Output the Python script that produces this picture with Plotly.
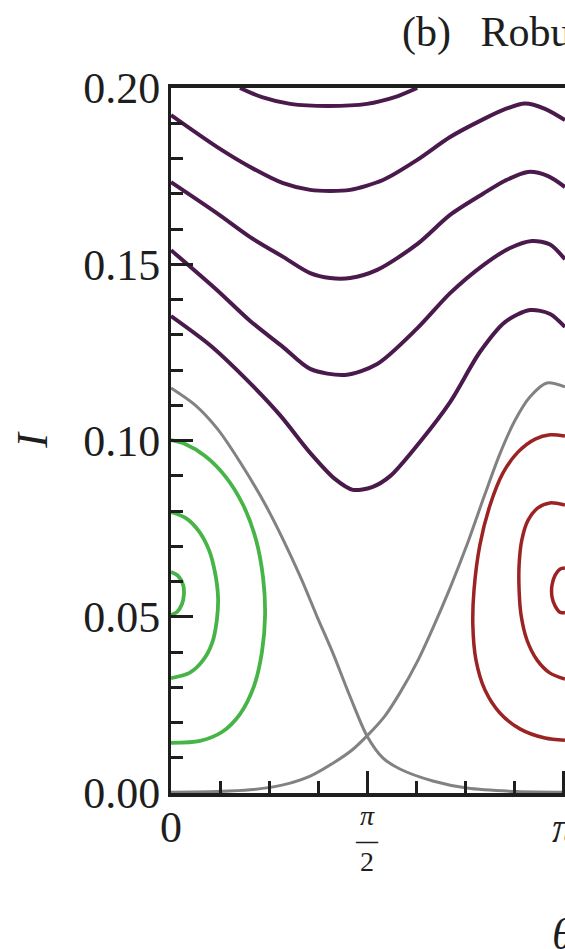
import numpy as np
import plotly.graph_objects as go

PI = np.pi

# ---------------- ticks (theta given in units of pi) ----------------
x_major_ticks = [0.0, 1.0]
x_major_labels = ["0", "<i>π</i>"]
x_fraction_tick = [0.5]
x_fraction_label = ["<span style='font-size:28px'><i>π</i></span><br>"
                    "<b><span style='font-size:22px'>—</span></b><br>"
                    "<span style='font-size:28px'>2</span>"]
x_minor_ticks = [0.125, 0.25, 0.375, 0.625, 0.75, 0.875]
y_major_ticks = [0.00, 0.05, 0.10, 0.15, 0.20]
y_major_labels = ["0.00", "0.05", "0.10", "0.15", "0.20"]
y_minor_ticks = [0.01, 0.02, 0.03, 0.04, 0.06, 0.07, 0.08, 0.09,
                 0.11, 0.12, 0.13, 0.14, 0.16, 0.17, 0.18, 0.19]

title_text = "(b)\u00a0\u00a0\u2009Robustness"
x_title = "<i>θ</i>"
y_title = "<i>I</i>"

# ---------------- rotating orbits (purple) ----------------
p1_theta = [0.176, 0.232, 0.304, 0.401, 0.500, 0.571, 0.628]
p1_I = [0.2000, 0.1974, 0.1955, 0.1949, 0.1955, 0.1974, 0.2000]

p2_theta = [0.000, 0.117, 0.202, 0.286, 0.355, 0.406, 0.457, 0.541, 0.628, 0.712, 0.796, 0.852, 0.903, 0.954, 1.005]
p2_I = [0.1923, 0.1833, 0.1776, 0.1730, 0.1711, 0.1708, 0.1711, 0.1739, 0.1796, 0.1861, 0.1911, 0.1940, 0.1956, 0.1941, 0.1909]

p3_theta = [0.000, 0.117, 0.202, 0.286, 0.355, 0.406, 0.457, 0.526, 0.628, 0.712, 0.796, 0.852, 0.911, 0.962, 1.005]
p3_I = [0.1733, 0.1645, 0.1577, 0.1521, 0.1475, 0.1461, 0.1461, 0.1484, 0.1557, 0.1640, 0.1700, 0.1737, 0.1762, 0.1750, 0.1719]

p4_theta = [0.000, 0.117, 0.202, 0.286, 0.355, 0.444, 0.526, 0.628, 0.712, 0.796, 0.865, 0.921, 0.967, 1.005]
p4_I = [0.1540, 0.1427, 0.1339, 0.1265, 0.1203, 0.1186, 0.1217, 0.1318, 0.1418, 0.1497, 0.1546, 0.1566, 0.1556, 0.1514]

p5_theta = [0.000, 0.099, 0.189, 0.278, 0.355, 0.418, 0.464, 0.513, 0.559, 0.635, 0.712, 0.788, 0.852, 0.916, 0.967, 1.005]
p5_I = [0.1353, 0.1271, 0.1177, 0.1072, 0.0965, 0.0891, 0.0860, 0.0868, 0.0899, 0.0996, 0.1109, 0.1251, 0.1336, 0.1370, 0.1359, 0.1322]

# ---------------- separatrices (gray) ----------------
g1_theta = [0.000, 0.061, 0.117, 0.176, 0.245, 0.329, 0.372, 0.413, 0.457, 0.500, 0.541, 0.584, 0.668, 0.755, 0.883, 1.005]
g1_I = [0.1149, 0.1101, 0.1035, 0.0939, 0.0809, 0.0616, 0.0502, 0.0397, 0.0273, 0.0162, 0.0099, 0.0068, 0.0034, 0.0014, 0.0004, 0.0002]

g2_theta = [0.000, 0.117, 0.202, 0.286, 0.355, 0.418, 0.462, 0.500, 0.546, 0.584, 0.628, 0.668, 0.712, 0.755, 0.801, 0.839, 0.878, 0.916, 0.959, 1.005]
g2_I = [0.0002, 0.0004, 0.0009, 0.0023, 0.0048, 0.0088, 0.0122, 0.0162, 0.0219, 0.0284, 0.0372, 0.0468, 0.0582, 0.0704, 0.0848, 0.0962, 0.1058, 0.1124, 0.1163, 0.1152]

# ---------------- librating orbits around theta = 0 (green) ----------------
go_theta = [0.000, 0.036, 0.087, 0.138, 0.184, 0.217, 0.235, 0.240, 0.232, 0.212, 0.176, 0.130, 0.074, 0.000]
go_I = [0.1001, 0.0990, 0.0956, 0.0899, 0.0817, 0.0718, 0.0610, 0.0505, 0.0400, 0.0304, 0.0224, 0.0173, 0.0148, 0.0142]

gm_theta = [0.000, 0.038, 0.071, 0.097, 0.112, 0.120, 0.117, 0.105, 0.082, 0.046, 0.000]
gm_I = [0.0797, 0.0780, 0.0743, 0.0689, 0.0627, 0.0556, 0.0491, 0.0426, 0.0377, 0.0340, 0.0326]

gi_theta = [0.000, 0.018, 0.031, 0.033, 0.028, 0.015, 0.000]
gi_I = [0.0627, 0.0616, 0.0590, 0.0565, 0.0536, 0.0513, 0.0505]

# ---------------- librating orbits around theta = pi (red) ----------------
ro_theta = [1.005, 0.967, 0.929, 0.885, 0.847, 0.814, 0.788, 0.773, 0.770, 0.778, 0.801, 0.839, 0.890, 0.954, 1.005]
ro_I = [0.1013, 0.1016, 0.1004, 0.0967, 0.0908, 0.0817, 0.0704, 0.0576, 0.0477, 0.0377, 0.0292, 0.0227, 0.0182, 0.0156, 0.0150]

rm_theta = [1.005, 0.967, 0.936, 0.911, 0.895, 0.888, 0.888, 0.893, 0.908, 0.934, 0.967, 1.005]
rm_I = [0.0817, 0.0823, 0.0809, 0.0774, 0.0718, 0.0647, 0.0576, 0.0505, 0.0434, 0.0377, 0.0340, 0.0323]

ri_theta = [1.005, 0.992, 0.980, 0.972, 0.972, 0.980, 0.992, 1.005]
ri_I = [0.0638, 0.0635, 0.0618, 0.0590, 0.0556, 0.0530, 0.0513, 0.0511]

PURPLE = "#4a1a4c"
GRAY = "#828282"
GREEN = "#46b446"
RED = "#9c2323"
INK = "#1e1e1e"
FONT = "Liberation Serif"

curves = [
    (p1_theta, p1_I, PURPLE, 4.0),
    (p2_theta, p2_I, PURPLE, 4.0),
    (p3_theta, p3_I, PURPLE, 4.0),
    (p4_theta, p4_I, PURPLE, 4.0),
    (p5_theta, p5_I, PURPLE, 4.0),
    (g1_theta, g1_I, GRAY, 3.0),
    (g2_theta, g2_I, GRAY, 3.0),
    (go_theta, go_I, GREEN, 3.8),
    (gm_theta, gm_I, GREEN, 3.8),
    (gi_theta, gi_I, GREEN, 3.8),
    (ro_theta, ro_I, RED, 3.5),
    (rm_theta, rm_I, RED, 3.5),
    (ri_theta, ri_I, RED, 3.5),
]

fig = go.Figure()
for th, I, col, w in curves:
    fig.add_trace(go.Scatter(
        x=np.array(th) * PI, y=I, mode="lines",
        line=dict(color=col, width=w, shape="spline", smoothing=0.8),
        showlegend=False, hoverinfo="skip"))

# empty trace to register the overlaid axis that carries the pi/2 tick and label
fig.add_trace(go.Scatter(x=[], y=[], xaxis="x2", yaxis="y", showlegend=False))

x_range = [0, 1.0051 * PI]

fig.update_layout(
    width=565, height=949,
    margin=dict(l=171, r=0, t=88, b=156, autoexpand=False),
    paper_bgcolor="white", plot_bgcolor="white",
    font=dict(family=FONT, color=INK),
    showlegend=False,
    xaxis=dict(
        range=x_range, tickmode="array", automargin=False,
        tickvals=[v * PI for v in x_major_ticks], ticktext=x_major_labels,
        ticks="inside", ticklen=22, tickwidth=2.5, tickcolor=INK,
        tickfont=dict(family=FONT, size=44, color=INK),
        ticklabelstandoff=-8, ticklabeloverflow="allow",
        minor=dict(tickmode="array", tickvals=[v * PI for v in x_minor_ticks],
                   ticks="inside", ticklen=12, tickwidth=2.5, tickcolor=INK, showgrid=False),
        showline=True, linewidth=4, linecolor=INK, mirror=True,
        showgrid=False, zeroline=False,
    ),
    xaxis2=dict(
        range=x_range, overlaying="x", anchor="y", side="bottom", automargin=False,
        tickmode="array", tickvals=[v * PI for v in x_fraction_tick], ticktext=x_fraction_label,
        ticks="inside", ticklen=22, tickwidth=2.5, tickcolor=INK,
        showline=False, showgrid=False, zeroline=False,
        tickfont=dict(family=FONT, size=17.7, color=INK),
        ticklabelstandoff=13,
    ),
    yaxis=dict(
        range=[0, 0.2], tickmode="array", automargin=False,
        tickvals=y_major_ticks, ticktext=y_major_labels,
        ticks="inside", ticklen=22, tickwidth=2.5, tickcolor=INK,
        tickfont=dict(family=FONT, size=44, color=INK),
        ticklabelstandoff=-1,
        minor=dict(tickmode="array", tickvals=y_minor_ticks,
                   ticks="inside", ticklen=12, tickwidth=2.5, tickcolor=INK, showgrid=False),
        showline=True, linewidth=3, linecolor=INK, mirror=False,
        showgrid=False, zeroline=False,
        title=dict(text=y_title, font=dict(family=FONT, size=44, color=INK), standoff=22),
    ),
    annotations=[
        dict(text=title_text, xref="paper", yref="paper", x=0.5812, y=1.0794,
             xanchor="left", yanchor="middle", showarrow=False,
             font=dict(family=FONT, size=42, color=INK)),
        dict(text=x_title, xref="x", yref="paper", x=PI, y=-0.2,
             xanchor="center", yanchor="middle", showarrow=False,
             font=dict(family=FONT, size=44, color=INK)),
    ],
)

post = (
    "document.documentElement.style.margin='0';"
    "document.documentElement.style.overflow='hidden';"
    "document.body.style.margin='0';"
    "document.body.style.overflow='hidden';"
    "var gd=document.getElementById('{plot_id}');"
    "gd.style.overflow='hidden';"
)

fig.write_html("out.html", config={"displayModeBar": False}, post_script=post)
